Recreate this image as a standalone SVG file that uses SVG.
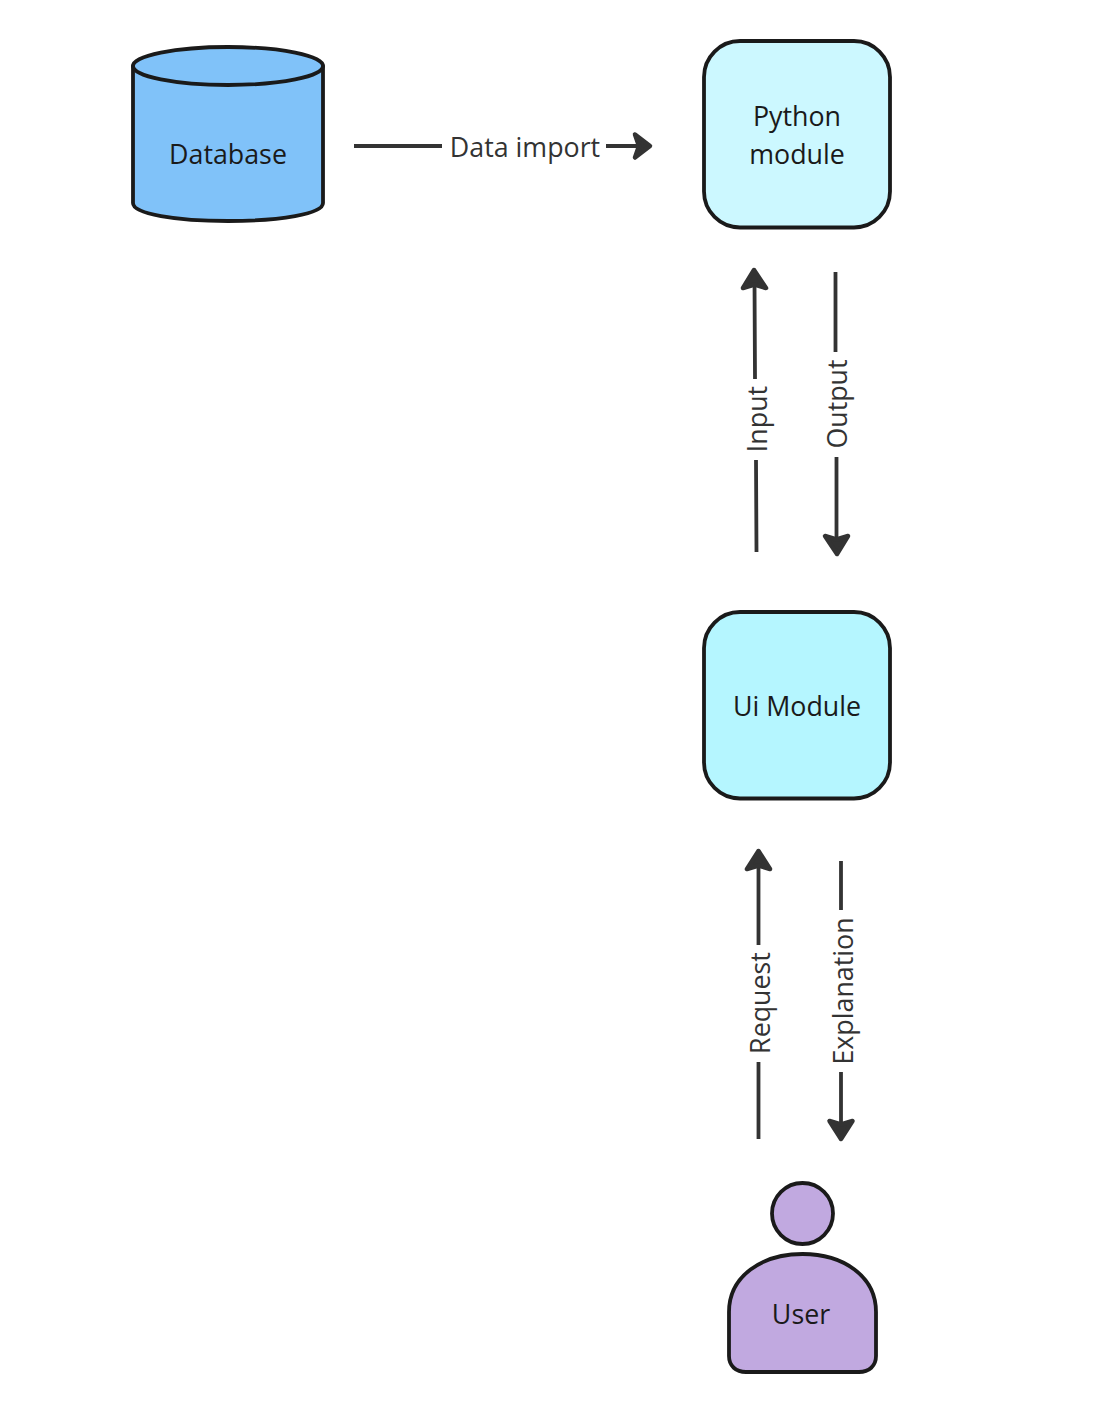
<svg xmlns="http://www.w3.org/2000/svg" width="1106" height="1411" viewBox="0 0 1106 1411">
<style>
.n{stroke:#1a1a1a;stroke-width:3.8;stroke-linejoin:round}
.t{font-family:"Open Sans","Noto Sans",sans-serif;font-size:26.8px;fill:#1a1a1a;text-anchor:middle}
.l{font-family:"Open Sans","Noto Sans",sans-serif;font-size:26.8px;fill:#333;text-anchor:middle}
.c{stroke:#333;stroke-width:3.8;fill:none}
.a{fill:#333;stroke:#333;stroke-width:4.5;stroke-linejoin:round}
</style>
<rect width="1106" height="1411" fill="#fff"/>
<g id="connectors">
<path class="c" d="M354 146H442M606 146H640"/>
<path class="a" d="M635 134.500L650 146L635 157.500L639 146Z"/>
<path class="c" d="M756.500 552L756 460M755 379L754.500 280"/>
<path class="a" d="M754 270L766 288L754.500 284.500L743 288Z"/>
<path class="c" d="M835.500 272V352M836.500 457V545"/>
<path class="a" d="M837 554L825 536L836.500 539.500L848 536Z"/>
<path class="c" d="M758.500 1139V1062M758.500 945V860"/>
<path class="a" d="M758.500 851L747 869L758.500 865.500L770 869Z"/>
<path class="c" d="M841 861V910M841 1072V1130"/>
<path class="a" d="M841 1139L829.500 1121L841 1124.500L852.500 1121Z"/>
<text class="l" x="525" y="157">Data import</text>
<text class="l" transform="translate(766.500 419) rotate(-90)">Input</text>
<text class="l" transform="translate(846.500 404) rotate(-90)">Output</text>
<text class="l" transform="translate(769.500 1003) rotate(-90)">Request</text>
<text class="l" transform="translate(852.500 991) rotate(-90)">Explanation</text>
</g>
<g id="database">
<path class="n" fill="#80c2f9" d="M133 66V203C133 214 176 221 228 221C280 221 323 214 323 203V66Z"/>
<ellipse class="n" fill="#80c2f9" cx="228" cy="66" rx="95" ry="19"/>
<text class="t" x="228" y="164">Database</text>
</g>
<g id="python-module">
<rect class="n" fill="#ccf8ff" x="704" y="41" width="186" height="186.500" rx="36"/>
<text class="t" x="797" y="126">Python</text>
<text class="t" x="797" y="164">module</text>
</g>
<g id="ui-module">
<rect class="n" fill="#b5f6ff" x="704" y="612" width="186" height="186.500" rx="36"/>
<text class="t" x="797" y="716">Ui Module</text>
</g>
<g id="user">
<circle class="n" fill="#c1a9e0" cx="802.500" cy="1213.500" r="30.500"/>
<path class="n" fill="#c1a9e0" d="M729 1312C729 1276 762 1254 802.500 1254C843 1254 876 1276 876 1312V1356C876 1366 869 1372 859 1372H746C736 1372 729 1366 729 1356Z"/>
<text class="t" x="801" y="1324">User</text>
</g>
</svg>
